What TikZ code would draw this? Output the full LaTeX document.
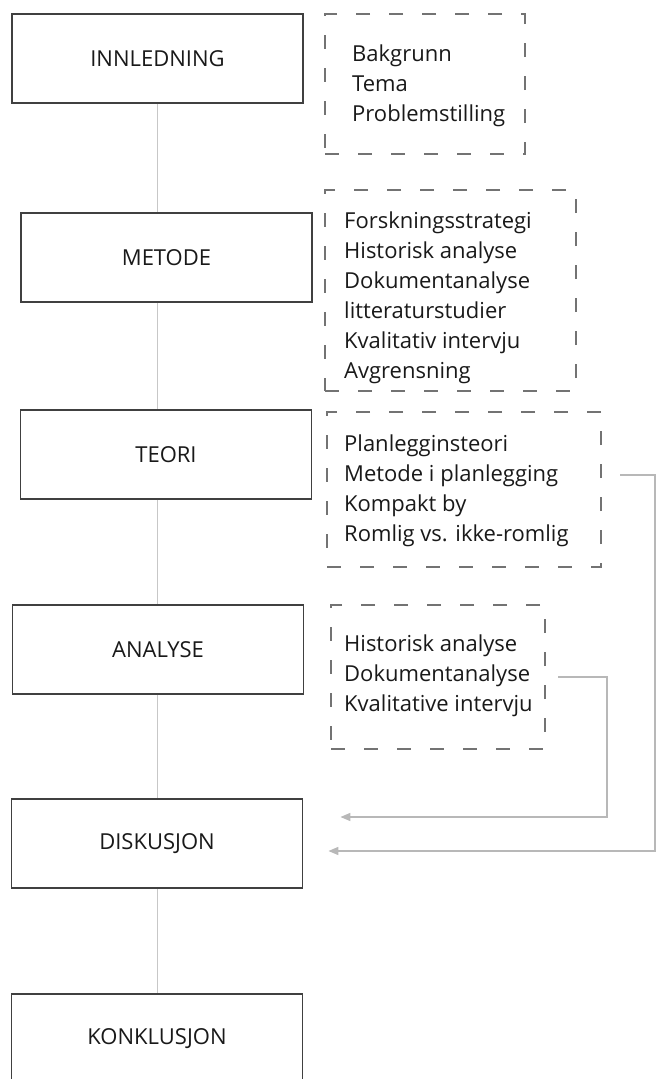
\documentclass[tikz,border=0pt]{standalone}
\usepackage{fontspec}
\setmainfont{Open Sans}
\usetikzlibrary{positioning,arrows.meta,fit,calc}

\begin{document}
\begin{tikzpicture}[
  x=1pt, y=-1pt,
  font=\fontsize{22}{30}\selectfont,
  >={Triangle[length=10pt,width=8pt]},
  chapter/.style={rectangle, draw=black!75, line width=1.8pt, fill=white, minimum width=291pt, minimum height=89pt, inner sep=0pt, text=black!90},
  itemframe/.style={rectangle, draw=black!55, line width=1.5pt, dash pattern=on 14pt off 19pt, inner sep=0pt},
  items/.style={anchor=north west, align=left, inner sep=0pt, text=black!90},
  spine/.style={draw=black!22, line width=1.5pt},
  feedback/.style={->, draw=black!28, line width=1.5pt}
]
  \useasboundingbox (0,0) rectangle (661,1079);
  \node[chapter] (inn) at (157.5,58.5) {INNLEDNING};
  \node[chapter] (met) at (166.5,257.5) {METODE};
  \node[chapter] (teo) at (166,454.5) {TEORI};
  \node[chapter] (ana) at (158,649.5) {ANALYSE};
  \node[chapter] (dis) at (157,843.5) {DISKUSJON};
  \node[chapter] (kon) at (157,1038.5) {KONKLUSJON};
  \draw[spine] (inn.south) -- (inn.south |- met.north);
  \draw[spine] (inn.south |- met.south) -- (inn.south |- teo.north);
  \draw[spine] (inn.south |- teo.south) -- (inn.south |- ana.north);
  \draw[spine] (inn.south |- ana.south) -- (inn.south |- dis.north);
  \draw[spine] (inn.south |- dis.south) -- (inn.south |- kon.north);
  \node[itemframe, minimum width=200pt, minimum height=140pt] (innframe) at (425,84) {};
  \node[items] (innitems) at (352,44.5) {Bakgrunn\\Tema\\Problemstilling};
  \node[itemframe, minimum width=251pt, minimum height=201pt] (metframe) at (450.5,290.5) {};
  \node[items] (metitems) at (344,211.5) {Forskningsstrategi\\Historisk analyse\\Dokumentanalyse\\litteraturstudier\\Kvalitativ intervju\\Avgrensning};
  \node[itemframe, minimum width=274pt, minimum height=155pt] (teoframe) at (464,489.5) {};
  \node[items] (teoitems) at (344,434.5) {Planlegginsteori\\Metode i planlegging\\Kompakt by\\Romlig vs. ikke-romlig};
  \node[itemframe, minimum width=214pt, minimum height=144pt] (anaframe) at (438,677) {};
  \node[items] (anaitems) at (344,634.5) {Historisk analyse\\Dokumentanalyse\\Kvalitative intervju};
  \coordinate (teoout) at (620,475);
  \coordinate (teoturn) at (655,475);
  \coordinate (anaout) at (558,677);
  \coordinate (anaturn) at (607,677);
  \draw[feedback] (teoout) -- (teoturn) |- ([xshift=25pt,yshift=-7.5pt]dis.east);
  \draw[feedback] (anaout) -- (anaturn) |- ([xshift=37pt,yshift=26.5pt]dis.east);
\end{tikzpicture}
\end{document}
